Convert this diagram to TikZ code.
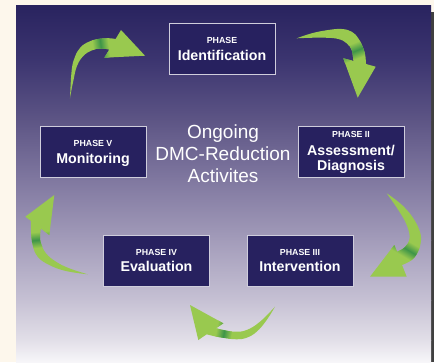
\documentclass[tikz,border=0pt]{standalone}
\usepackage{fontspec}
\setmainfont{Liberation Sans}
\usetikzlibrary{calc}
\definecolor{cream}{HTML}{FDF7EC}
\definecolor{navy}{HTML}{27215F}
\definecolor{boxline}{HTML}{CFCDDC}
\definecolor{arrowgreen}{HTML}{99C94F}
\definecolor{arrowdark}{HTML}{3E9548}
\definecolor{bgA}{HTML}{29235F}
\definecolor{bgB}{HTML}{3C3570}
\definecolor{bgC}{HTML}{5D5585}
\definecolor{bgD}{HTML}{8078A0}
\definecolor{bgE}{HTML}{A39CBA}
\definecolor{bgF}{HTML}{C6C1D4}
\definecolor{bgG}{HTML}{E2DFE8}
\definecolor{bgH}{HTML}{F7F6F9}
\newcommand\greenarrow[3]{%
  \fill[arrowgreen] #1;
  \begin{scope}
    \clip #1;
    \begin{scope}[transform canvas={shift={#2},rotate=#3}]
      \shade[left color=arrowgreen,right color=arrowgreen,middle color=arrowdark] (-8,-40) rectangle (8,40);
    \end{scope}
  \end{scope}}
\begin{document}
\begin{tikzpicture}[x=1pt,y=-1pt,
  phasebox/.style={draw=boxline,line width=0.8pt,fill=navy,minimum width=106pt,minimum height=51pt,inner sep=0pt},
  phasetxt/.style={text=white,font=\fontsize{8.8}{10}\selectfont\bfseries,inner sep=0pt,anchor=base},
  nametxt/.style={text=white,font=\fontsize{14.2}{15}\selectfont\bfseries,inner sep=0pt,anchor=base},
  centertxt/.style={text=white,font=\fontsize{19}{22}\selectfont,align=center,inner sep=0pt}]
\useasboundingbox (0,0) rectangle (434,362);
% background
\fill[cream] (0,0) rectangle (434,362);
\fill[black!75] (431,12) rectangle (434,362);
\shade[top color=bgA,bottom color=bgB] (16,5) rectangle (431,60.5);
\shade[top color=bgB,bottom color=bgC] (16,60) rectangle (431,120.5);
\shade[top color=bgC,bottom color=bgD] (16,120) rectangle (431,180.5);
\shade[top color=bgD,bottom color=bgE] (16,180) rectangle (431,240.5);
\shade[top color=bgE,bottom color=bgF] (16,240) rectangle (431,300.5);
\shade[top color=bgF,bottom color=bgG] (16,300) rectangle (431,340.5);
\shade[top color=bgG,bottom color=bgH] (16,340) rectangle (431,362);
% arrows
\greenarrow{(70,98.3) -- plot[smooth,tension=.7] coordinates {(70,98.3) (71.7,70) (75,56.7) (80,48) (86.7,42.7) (96.7,39.3) (108,38.2) (115.6,39)} -- (121,30) -- (145,55.7) -- (104.3,57.7) -- plot[smooth,tension=.7] coordinates {(109.4,49.5) (100,48.5) (91.7,50.5) (83.3,56) (77,66) (73.5,80) (70.5,95) (70,98.3)} -- cycle}{(100,41)}{8}
\greenarrow{(296.7,38.3) -- plot[smooth,tension=.7] coordinates {(296.7,38.3) (311.7,33.3) (328.3,30) (341.7,29) (351.7,31.7) (358.3,38.3) (363.3,48.3) (365.5,57) (366,64)} -- (375.7,66.7) -- (357.7,97.7) -- (343.3,58.3) -- plot[smooth,tension=.7] coordinates {(353.3,60.9) (351.7,50) (346.7,43.3) (338.3,39) (325,37.7) (310,37.8) (296.7,38.3)} -- cycle}{(357,50)}{-68}
\greenarrow{(386.7,193.3) -- plot[smooth,tension=.7] coordinates {(386.7,193.3) (396,200) (405,208) (413.3,218.3) (419.3,230) (421,240) (418,251.7) (411.7,260) (402,265)} -- (406.7,276.7) -- (370,276.7) -- (394.3,245) -- plot[smooth,tension=.7] coordinates {(397,251.7) (405,247) (409.5,238.3) (406.7,225) (398.3,210) (386.7,193.3)} -- cycle}{(408,250)}{-121}
\greenarrow{(275,306.7) -- plot[smooth,tension=.7] coordinates {(275,306.7) (260,321.7) (246.7,330) (235,331.7) (223.3,330) (216,328.2)} -- (223.3,323.3) -- (190,305) -- (198.3,340) -- plot[smooth,tension=.7] coordinates {(206.7,334.3) (216.7,336.7) (226.7,338.3) (236.7,339.3) (246.7,337.7) (256.7,331.7) (266.7,320) (275,306.7)} -- cycle}{(223,337)}{169}
\greenarrow{(87.7,274.3) -- plot[smooth,tension=.7] coordinates {(87.7,274.3) (66,271) (49.3,265) (37.7,256.7) (32.7,245) (31,231.7) (31,221)} -- (25.3,216.7) -- (54.3,195) -- (49.3,235) -- plot[smooth,tension=.7] coordinates {(41,228.7) (40,235) (41,243.3) (46,253.3) (56,261.7) (69.3,268.3) (87.7,274.3)} -- cycle}{(36,240)}{96}
% boxes
\node[phasebox] (id) at (222,48.5) {};
\node[phasebox] (mo) at (93,152) {};
\node[phasebox] (as) at (351,151.5) {};
\node[phasebox] (ev) at (156.5,261) {};
\node[phasebox] (in) at (300,261) {};
\node[phasetxt] (idp) at ($(id.north)+(0,20.6)$) {PHASE};
\node[nametxt]  (idn) at ($(id.north)+(0,37.8)$) {Identification};
\node[phasetxt] (mop) at ($(mo.north)+(0,20.3)$) {PHASE V};
\node[nametxt]  (mon) at ($(mo.north)+(0,37.3)$) {Monitoring};
\node[phasetxt] (asp) at ($(as.north)+(0,12.2)$) {PHASE II};
\node[nametxt]  (asn) at ($(as.north)+(0,29.7)$) {Assessment/};
\node[nametxt]  (asd) at ($(as.north)+(0,45)$) {Diagnosis};
\node[phasetxt] (evp) at ($(ev.north)+(0,20)$) {PHASE IV};
\node[nametxt]  (evn) at ($(ev.north)+(0,36.8)$) {Evaluation};
\node[phasetxt] (inp) at ($(in.north)+(0,20)$) {PHASE III};
\node[nametxt]  (inn) at ($(in.north)+(0,36.8)$) {Intervention};
% center text
\node[centertxt] (ctr) at (223,153.3) {Ongoing\\DMC-Reduction\\Activites};
\end{tikzpicture}
\end{document}
